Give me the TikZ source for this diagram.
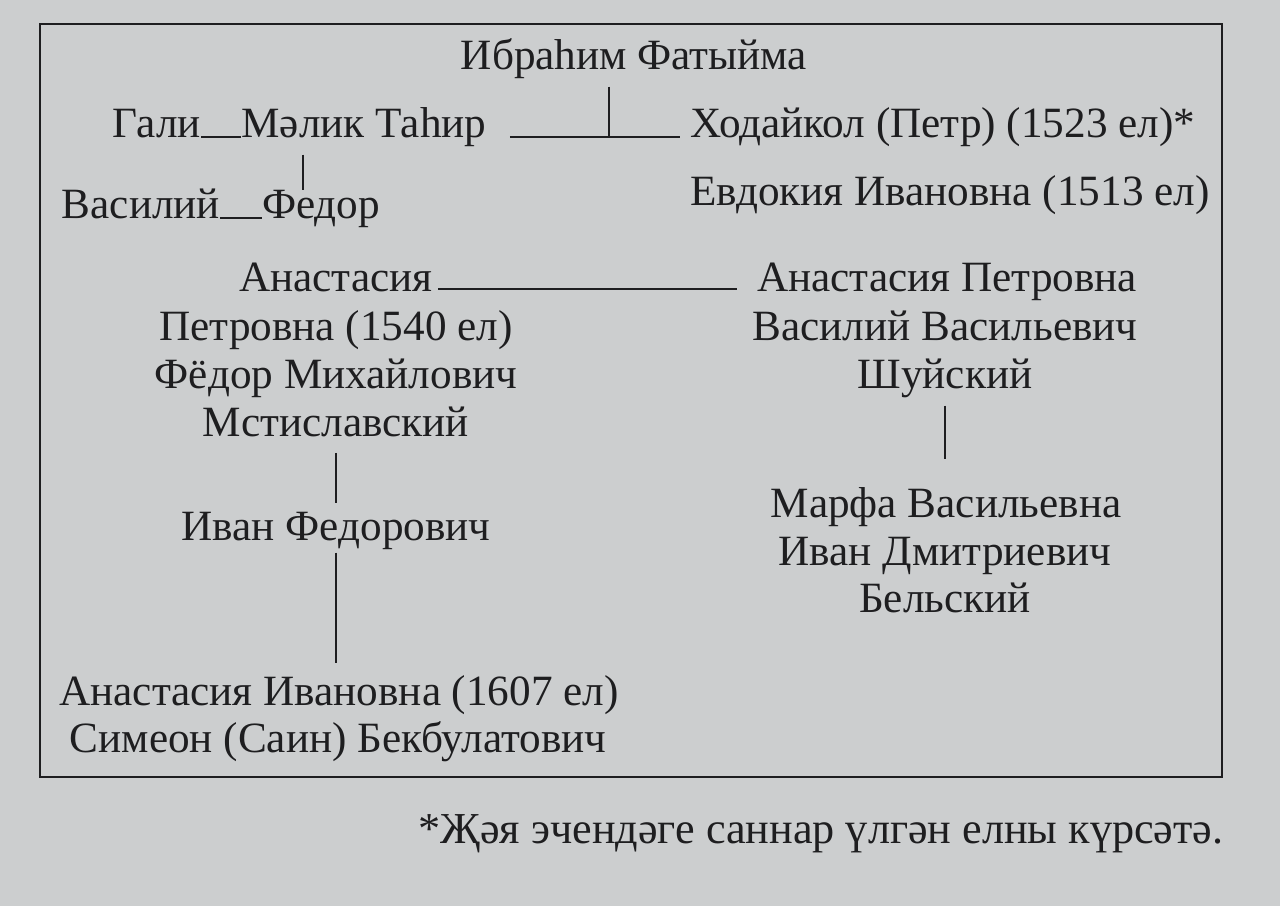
\documentclass[tikz,border=0pt]{standalone}
\usepackage{fontspec}
\setmainfont{Liberation Serif}
\usetikzlibrary{calc}
\definecolor{paper}{RGB}{204,206,207}
\definecolor{ink}{RGB}{30,30,32}

\begin{document}
\begin{tikzpicture}[x=0.5pt,y=-0.5pt,
  every node/.style={inner sep=0pt,anchor=base,text=ink,font=\fontsize{21.6}{26}\selectfont},
  line/.style={draw=ink,line width=1.2pt}]
  \fill[paper] (0,0) rectangle (1280,906);
  \draw[ink,line width=1.1pt] (40,24) rectangle (1222,777);
  % names, one line each
  \foreach \n/\x/\y/\t in {ibr/634/69/Ибраһим Фатыйма,
      gali/157/137/Гали, malik/364/137/Мәлик Таһир, hod/943/137/Ходайкол (Петр) (1523 ел)*,
      evd/950/205/Евдокия Ивановна (1513 ел), vas/141/218/Василий, fed/321/218/Федор,
      anl/336/291/Анастасия, anr/947/291/Анастасия Петровна,
      petr/336/340/Петровна (1540 ел), fmih/336/388/Фёдор Михайлович, mst/336/436/Мстиславский,
      ivan/336/540/Иван Федорович, aniv/339/705/Анастасия Ивановна (1607 ел), sim/338/752/Симеон (Саин) Бекбулатович,
      vv/945/340/Василий Васильевич, shuy/945/388/Шуйский,
      marfa/946/517/Марфа Васильевна, idm/945/565/Иван Дмитриевич, bel/945/612/Бельский}
  {
    \node (\n) at (\x,\y) {\t};
  }
  \node[font=\fontsize{22.1}{26}\selectfont] (note) at (821,843) {*Җәя эчендәге саннар үлгән елны күрсәтә.};
  % marriages
  \draw[line] (gali.base east) -- (malik.base west);
  \draw[line] (vas.base east) -- (fed.base west);
  \draw[line] ($(malik.base east)+(23,0)$) -- ($(hod.base west)+(-10,0)$);
  \draw[line] ($(anl.base east)+(5,-2)$) -- ($(anr.base west)+(-20,-2)$);
  % descent
  \coordinate (top) at ($(ibr.south)+(-25,8)$);
  \draw[line] (top) -- (top |- hod.base);
  \draw[line] ($(malik.south west)+(62,8)$) -- ++(0,35);
  \draw[line,shorten <=8pt,shorten >=4pt] (mst.south) -- (mst.south |- ivan.north);
  \draw[line,shorten <=1.5pt,shorten >=6pt] (ivan.south) -- (ivan.south |- aniv.north);
  \draw[line,shorten <=4pt,shorten >=14pt] (shuy.south) -- (shuy.south |- marfa.north);
\end{tikzpicture}
\end{document}
